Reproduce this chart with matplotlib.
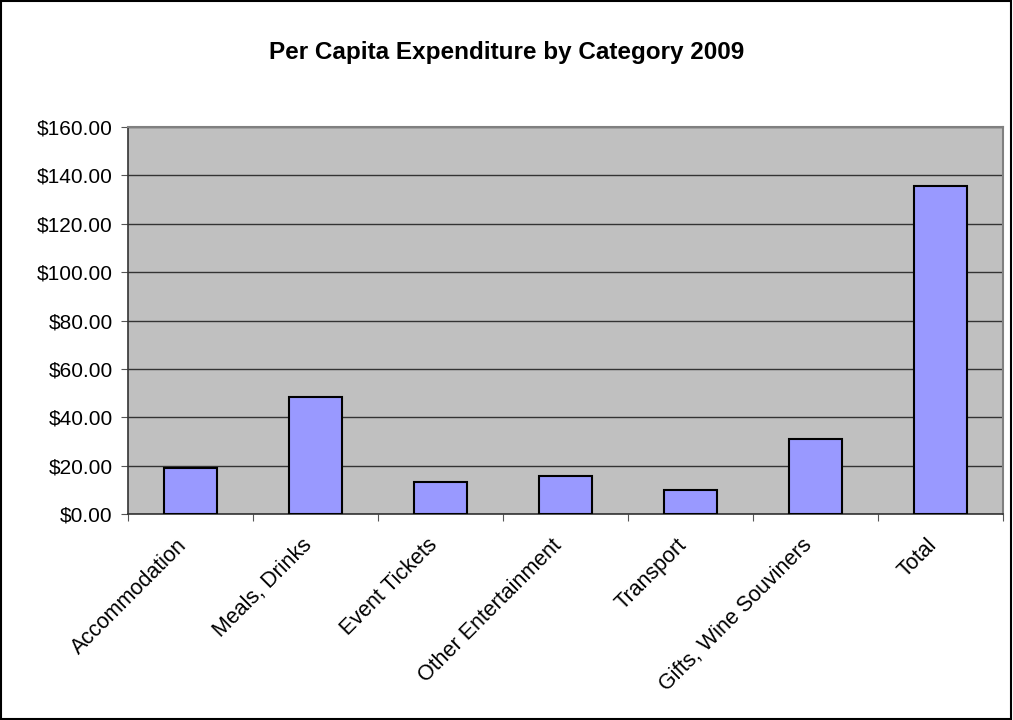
import matplotlib
matplotlib.use("Agg")
import matplotlib.pyplot as plt
from matplotlib.patches import Rectangle
from matplotlib.ticker import FuncFormatter, MultipleLocator
from matplotlib.transforms import ScaledTranslation

categories = ["Accommodation", "Meals, Drinks", "Event Tickets", "Other Entertainment",
              "Transport", "Gifts, Wine Souviners", "Total"]
spend = [19.1, 48.2, 13.3, 15.8, 9.8, 30.9, 135.6]

plt.rcParams["font.family"] = ["Liberation Sans", "DejaVu Sans"]

fig = plt.figure(figsize=(10.13, 7.2), dpi=100)
ax = fig.add_axes([128 / 1013, 1 - 514 / 720, 875 / 1013, 387 / 720])

ax.set_facecolor("#C0C0C0")
x = range(len(categories))
ax.bar(x, spend, width=0.42, color="#9999FF", edgecolor="black", linewidth=1.5, zorder=3)

ax.set_xlim(-0.5, len(categories) - 0.5)
ax.set_ylim(0, 160)
ax.yaxis.set_major_locator(MultipleLocator(20))
ax.yaxis.set_major_formatter(FuncFormatter(lambda v, p: f"${v:,.2f}"))
ax.grid(axis="y", color="#333333", linewidth=1.0, zorder=1)

# category boundary ticks
ax.set_xticks([i - 0.5 for i in range(len(categories) + 1)], minor=False)
ax.set_xticklabels([])
ax.set_xticks(list(x), minor=True)
ax.set_xticklabels(categories, minor=True, rotation=45, ha="right", rotation_mode="anchor", fontsize=15.5)
ax.tick_params(axis="x", which="minor", length=0, pad=15)
ax.tick_params(axis="x", which="major", length=5, color="#555555", direction="out")
ax.tick_params(axis="y", length=5, color="#555555", labelsize=15, pad=6)

# nudge category labels a little left, as in the original
shift = ScaledTranslation(-14 / 100, 0, fig.dpi_scale_trans)
for lbl in ax.get_xticklabels(minor=True):
    lbl.set_transform(lbl.get_transform() + shift)

for side in ["top", "right"]:
    ax.spines[side].set_color("#808080")
    ax.spines[side].set_linewidth(1.5)
for side in ["left", "bottom"]:
    ax.spines[side].set_color("#333333")
    ax.spines[side].set_linewidth(1.2)

fig.text(0.5, 1 - 52 / 720, "Per Capita Expenditure by Category 2009", ha="center", va="center",
         fontsize=17.5, fontweight="bold")

fig.patches.append(Rectangle((0.001, 0.001), 0.997, 0.997, transform=fig.transFigure,
                             fill=False, edgecolor="black", linewidth=1.5))

fig.savefig("out.png", dpi=100)
